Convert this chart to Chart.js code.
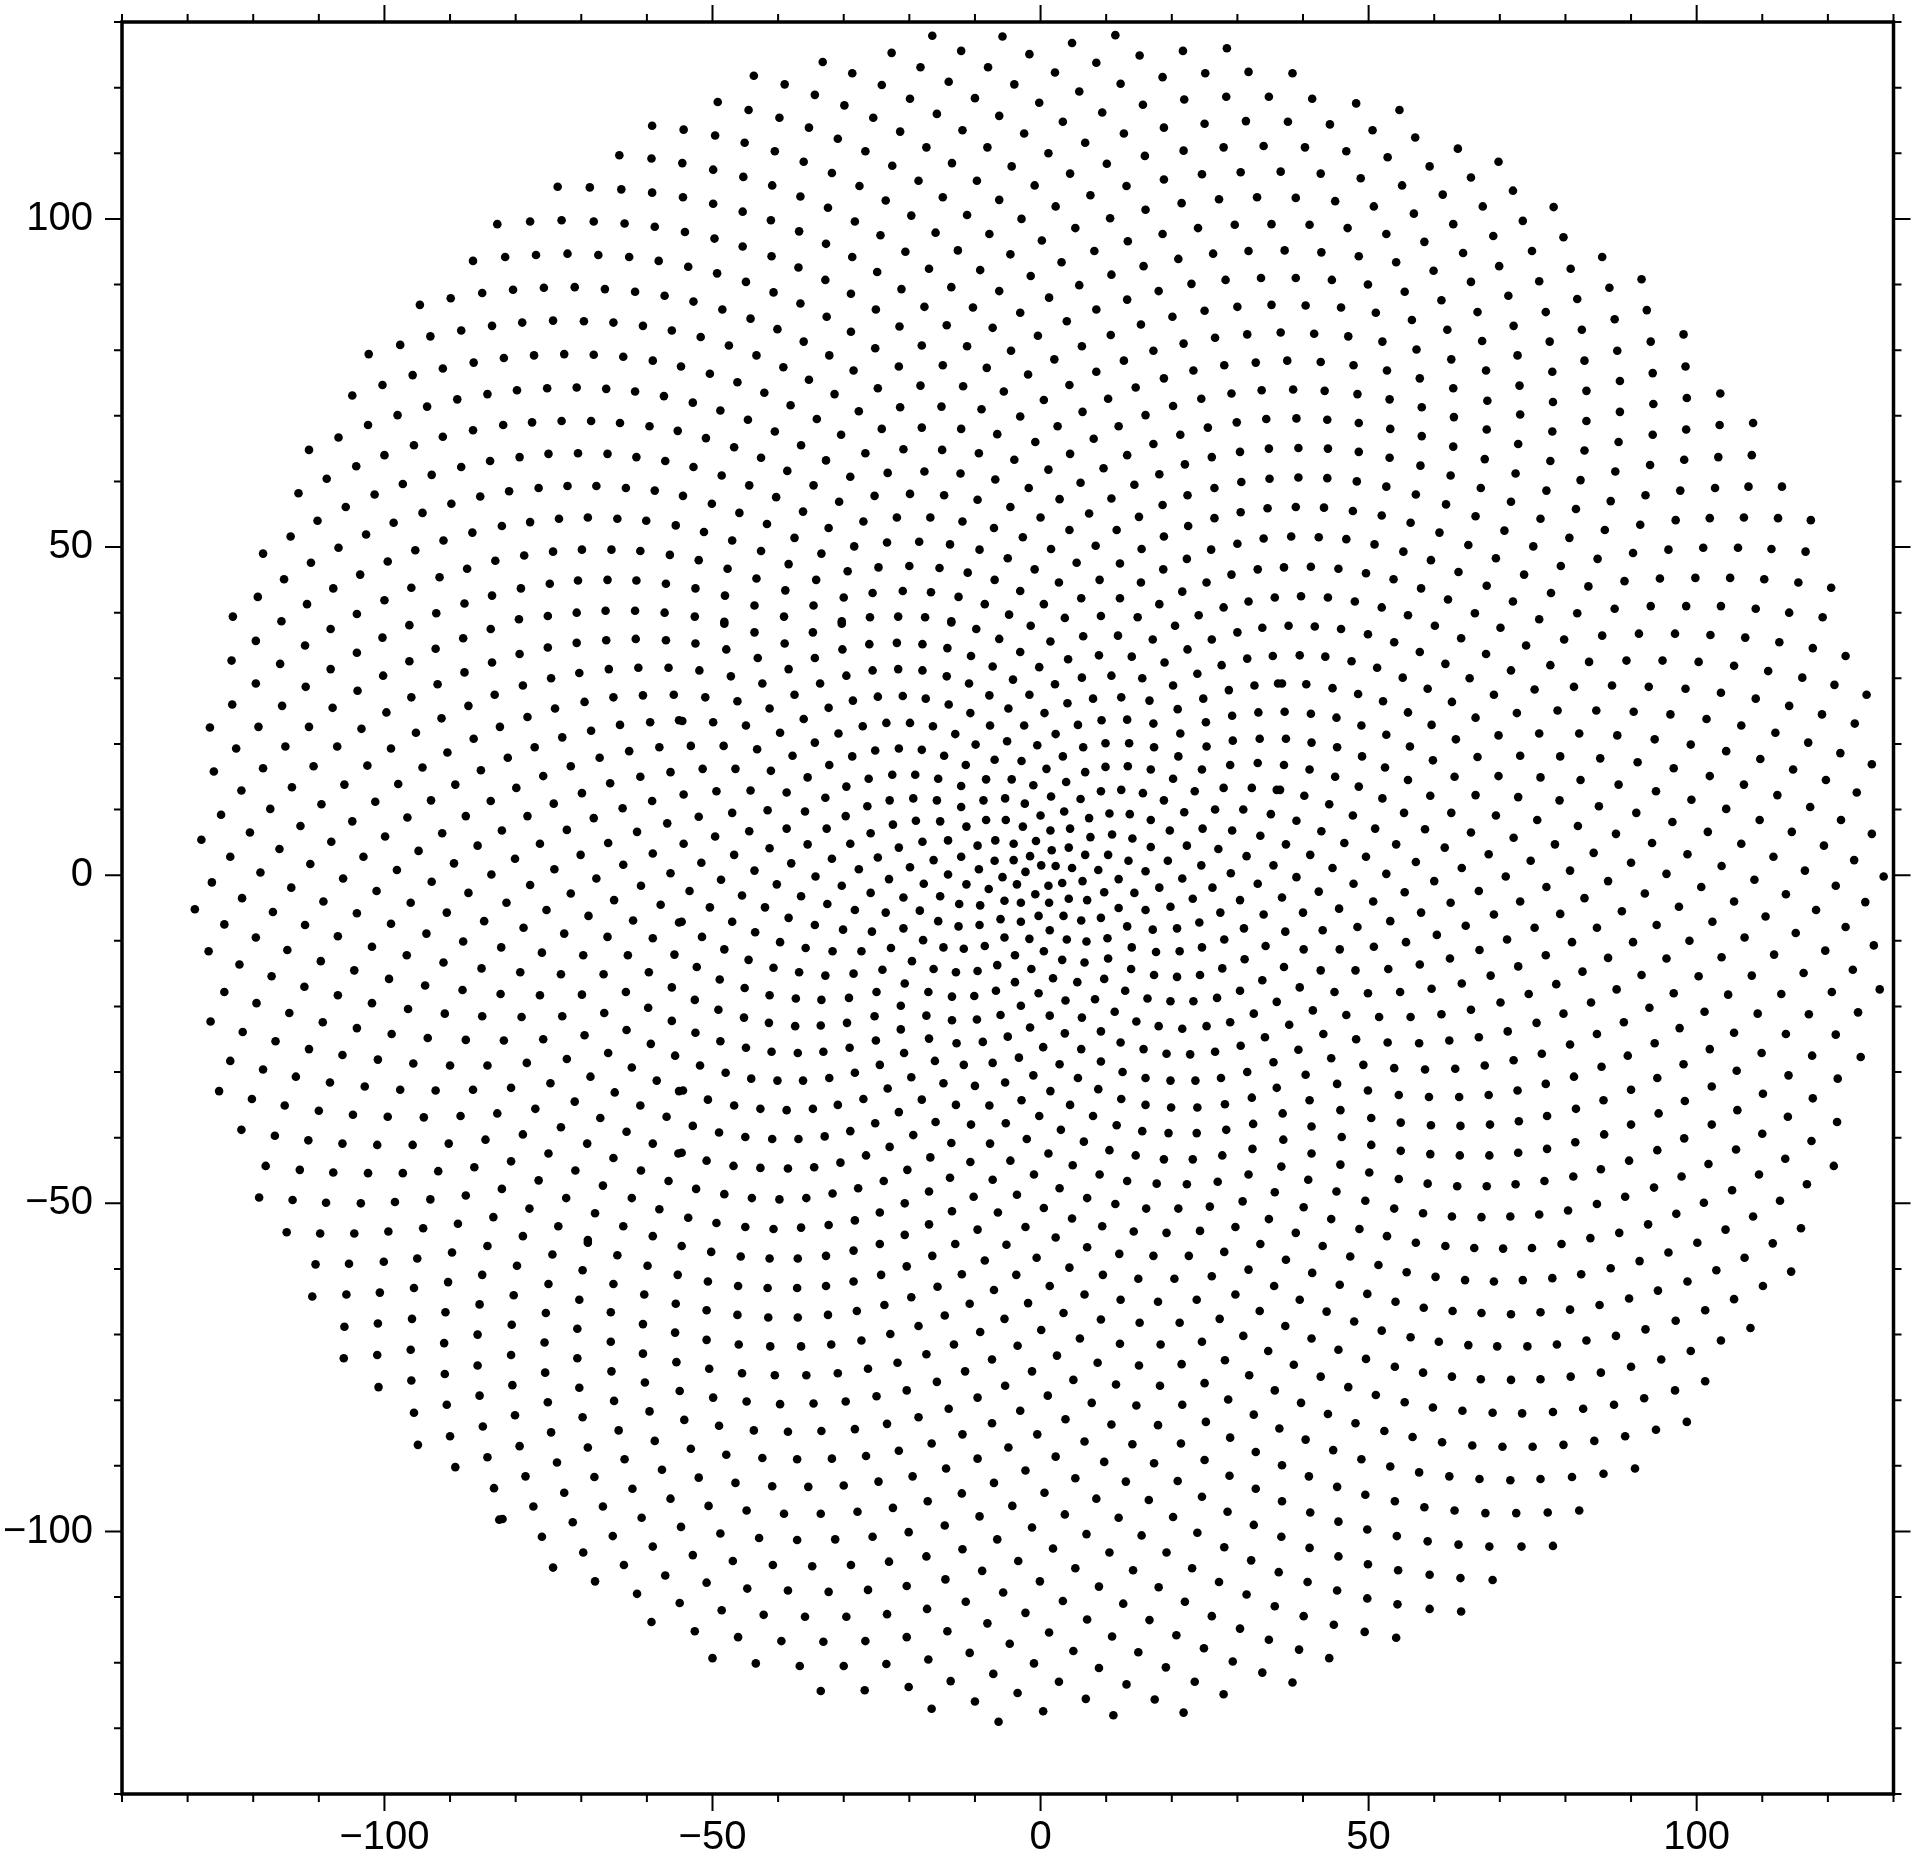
<!DOCTYPE html>
<html>
<head>
<meta charset="utf-8">
<title>Spiral points</title>
<script src="https://cdn.jsdelivr.net/npm/chart.js@4"></script>
<style>
    html, body { margin: 0; padding: 0; background: #fff; }
    canvas { display: block; }
</style>
</head>
<body>
<canvas id="pointsChart" width="1916" height="1856"></canvas>
<script>
const xRange = [-140, 130];
const yRange = [-140, 130];
const tickValues = [-100, -50, 0, 50, 100];
const tickLabels = ['\u2212100', '\u221250', '0', '50', '100'];

// values, one region at a time, as x,y x,y ...
const upperLeft = [-82.8,99.2,-86.5,93.6,-85.1,88.7,-89.9,87.9,-94.6,86.9,-83.6,83.7,-88.3,83,-93,82.1,-97.6,80.8,-102.4,79.4,-86.4,78.1,-91.1,77.2,-95.7,76.2,-100.3,74.7,-104.9,73.1,-84.3,73.3,-88.9,72.5,-93.5,71.4,-98,70.1,-102.5,68.6,-107,66.7,-111.5,64.8,-86.5,67.8,-91.1,66.8,-95.5,65.5,-100,64,-104.3,62.3,-108.8,60.4,-113.1,58.2,-83.9,63.1,-88.3,62.2,-92.8,61,-97.2,59.6,-101.5,58,-105.9,56.1,-110.2,54,-114.3,51.6,-118.5,49,-85.4,57.7,-89.8,56.6,-94.2,55.2,-98.6,53.7,-102.8,51.9,-107,49.9,-111.2,47.6,-115.3,45.1,-119.3,42.4,-123.1,39.4,-86.6,52.2,-91,51,-95.3,49.5,-99.5,47.8,-103.7,45.8,-107.8,43.7,-111.8,41.3,-115.7,38.7,-83.1,47.9,-87.4,46.7,-91.6,45.4,-95.9,43.8,-100,41.9,-104.2,39.8,-83.6,42.6,-87.8,41.4,-92.1,39.9];
const upperMid = [-16.5,127.9,-22.7,125.3,-12.1,125.6,-33.2,123.9,-28.7,122.2,-18.3,123.1,-8,123.1,-43.7,121.8,-39,120.5,-34.4,118.9,-24.2,120.4,-14,120.9,-19.9,118.3,-10,118.4,-29.9,117.3,-49.2,117.8,-44.5,116.6,-39.8,115.4,-35.3,113.9,-25.5,115.4,-15.8,116,-6.3,115.7,-59.2,114.2,-54.4,113.6,-49.6,112.7,-45.1,111.6,-30.9,112.2,-21.4,113.3,-11.9,113.5,-40.5,110.3,-26.7,110.3,-17.4,110.9,-8.1,110.9,-64.2,109.7,-59.3,109.2,-54.6,108.5,-49.9,107.5,-45.3,106.4,-36.1,108.7,-31.8,107,-22.6,108.1,-13.5,108.5,-40.9,105.1,-27.6,105,-18.6,105.8,-9.7,105.8,-73.6,104.9,-68.7,104.8,-63.9,104.5,-59.2,104,-54.5,103.3,-49.9,102.3,-45.4,101.1,-36.6,103.4,-32.4,101.7,-23.6,102.8,-14.9,103.3,-6.3,102.9,
-77.8,99.6,-73,99.8,-68.1,99.6,-63.4,99.3,-58.8,98.8,-54.2,98,-49.7,97,-45.4,95.8,-41.1,99.8,-36.8,98.1,-32.7,96.2,-28.3,99.6,-24.4,97.5,-19.7,100.5,-16,97.9,-11.2,100.6,-7.8,97.7,-81.6,94.2,-76.9,94.5,-72.1,94.7,-67.4,94.5,-62.7,94.2,-58.2,93.6,-53.7,92.7,-49.3,91.7,-44.9,90.4,-41,94.3,-36.9,92.6,-32.8,90.7,-28.7,94.2,-24.9,91.9,-20.6,95,-17,92.4,-12.6,95.2,-9.2,92.2,-80.4,89.2,-75.7,89.5,-71,89.6,-66.4,89.3,-61.8,88.9,-57.3,88.3,-52.9,87.4,-48.5,86.2,-44.2,84.8,-40.7,88.8,-36.6,87.1,-32.6,85.1,-28.9,88.6,-25.1,86.2,-21.2,89.3,-17.7,86.6,-13.6,89.6,-10.3,86.5,-6.3,89,
-79,84.2,-74.3,84.5,-69.6,84.4,-65.1,84.2,-60.6,83.7,-56.2,83,-51.8,82,-47.5,80.7,-43.3,79.2,-40.1,83.2,-36.1,81.3,-32.2,79.2,-28.9,82.8,-25.2,80.3,-21.5,83.6,-18.1,80.7,-14.3,83.8,-11.2,80.6,-7.3,83.4,-81.8,78.8,-77.2,79.2,-72.6,79.4,-68.1,79.3,-63.6,79,-59.1,78.4,-54.8,77.5,-50.4,76.4,-46.2,75.1,-42.1,73.5,-39.2,77.4,-35.3,75.5,-31.4,73.3,-28.5,76.9,-24.8,74.2,-21.6,77.5,-18.3,74.6,-14.9,77.7,-11.8,74.5,-8.2,77.3,-79.8,73.9,-75.2,74.2,-70.7,74.3,-66.2,74.1,-61.8,73.7,-57.4,73,-53,72,-48.8,70.8,-44.6,69.4,-40.5,67.6,-38.1,71.6,-34.1,69.5,-30.4,67.1,-27.7,70.7,-24.2,68,-21.4,71.3,-18.1,68.2,-15.1,71.4,-12.1,68,-9,71,
-81.9,68.6,-77.5,69,-73,69.2,-68.5,69.2,-64.1,68.9,-59.6,68.4,-55.3,67.7,-51,66.6,-46.7,65.2,-42.6,63.6,-38.6,61.6,-36.5,65.5,-32.7,63.2,-29,60.7,-26.7,64.3,-23.3,61.3,-20.9,64.9,-17.7,61.5,-15,64.8,-12.2,61.2,-9.4,64.3,-6.6,67.2,-79.4,63.7,-75,64.2,-70.5,64.3,-66,64.2,-61.6,63.7,-57.2,63.1,-52.9,62.2,-48.6,60.9,-44.4,59.4,-40.3,57.6,-34.6,59.4,-30.7,56.9,-25.3,57.8,-19.9,58.1,-14.7,57.9,-9.6,57.2,-6.9,60.3,-81,58.5,-76.5,59,-72.1,59.3,-67.7,59.3,-63.2,59,-58.8,58.6,-54.5,57.8,-50.1,56.6,-45.9,55.2,-41.7,53.5,-36.2,55.4,-32.3,52.9,-27,53.9,-21.9,54.5,-16.8,54.5,-11.9,53.9,-7.1,52.9,
-82.1,53.2,-77.8,53.8,-73.4,54.3,-69,54.5,-64.5,54.3,-60.1,54,-55.6,53.3,-51.3,52.3,-47,51,-42.6,49.4,-37.5,51.4,-33.4,49,-28.4,50.1,-23.4,50.7,-18.5,50.8,-13.8,50.4,-9.3,49.6,-78.7,48.7,-74.3,49.3,-69.9,49.6,-65.4,49.6,-61,49.4,-56.5,48.8,-52.1,48,-47.7,46.7,-43.3,45.2,-38.4,47.4,-34.2,45,-29.4,46.3,-24.7,46.9,-20,47.1,-15.4,46.8,-11.1,46.1,-7,45,-79.2,43.7,-74.8,44.4,-70.5,44.9,-66,45,-61.6,44.9,-57.1,44.4,-52.6,43.7,-48.1,42.6,-43.6,41.1,-38.9,43.4,-34.6,41.1,-30,42.3,-25.6,43,-21,43.3,-16.7,43.1,-12.5,42.4,-8.5,41.3,-79.5,39,-75.1,39.5,-70.7,40,-66.3,40.3,-61.8,40.3,-57.3,40,-52.7,39.4,-48.2,38.6,-39.1,39.4,-30.3,38.7,-26,39.3,-21.7,39.4,-17.6,39.3,-13.6,38.7];
const upperCentre = [-5.8,127.8,4.8,126.8,11.4,128,-1.7,125.1,8.5,123.8,15.1,124.9,21.7,125.6,28.4,126,2.2,122.3,12.2,120.6,18.6,121.6,25.1,122.2,31.7,122.4,38.4,122.2,-4,120.5,5.9,119.4,-.2,117.7,15.6,117.4,21.9,118.2,28.3,118.6,34.8,118.6,41.4,118.3,48.1,117.6,54.7,116.6,9.4,116.2,3.4,114.8,18.8,113.9,25,114.5,31.3,114.9,37.7,114.8,44.1,114.4,50.6,113.5,57.1,112.4,-2.5,113,12.7,113,6.8,111.6,21.8,110.4,27.9,110.9,34,111.1,40.3,110.9,46.6,110.3,52.9,109.4,59.3,108,63.6,110.7,69.8,108.7,1.2,110,15.9,109.6,-4.4,108,10.1,108.4,4.5,106.9,24.6,106.8,30.5,107.1,36.6,107.2,42.7,106.9,48.8,106.2,55.1,105.1,61.3,103.7,65.6,106.3,18.8,106,-.9,105.1,13.1,105,7.6,103.6,21.5,102.4,27.2,103,33,103.3,38.9,103.2,44.9,102.7,50.8,101.9,56.9,100.8,67.4,101.9,
2.3,101.9,16,101.4,-2.9,100,10.6,100.1,5.3,98.6,24,98.6,29.6,99.1,35.2,99.2,41,99.1,46.8,98.6,52.7,97.7,58.5,96.5,62.9,99.2,69,97.4,18.6,97.7,.2,96.7,13.3,96.6,8.2,95.1,-4.6,94.6,21,93.9,26.3,94.7,31.7,95.1,37.2,95.2,42.8,94.9,48.5,94.3,54.2,93.4,59.9,92.1,64.4,94.8,69.9,92.8,3.2,93.4,15.7,92.8,-1.5,91.3,10.8,91.5,5.9,89.9,28.2,90.7,33.6,91,38.9,91,44.4,90.7,49.9,90,55.5,88.9,61.1,87.6,65.6,90.4,23,90.1,18,89,13.2,87.7,1.3,88,8.5,86.2,-3.1,85.7,30,86.6,35.2,86.9,40.4,86.8,45.8,86.5,51.1,85.7,56.6,84.6,62,83.1,66.6,85.8,25,86,20.1,85.1,4,84.4,15.3,83.9,-.4,82.2,10.7,82.3,26.6,81.9,31.5,82.4,36.6,82.7,41.7,82.5,46.9,82.1,52.1,81.3,57.3,80.1,62.6,78.6,67.3,81.4,
21.8,81,6.3,80.6,17.2,79.9,-4.5,79.9,2.1,78.6,12.7,78.4,28,77.7,32.8,78.1,37.6,78.4,42.7,78.2,47.7,77.7,52.8,76.9,57.8,75.7,62.9,74.2,67.9,76.9,8.5,76.7,-1.9,76.3,23.3,76.9,18.8,75.7,4.4,74.7,14.5,74.3,-5.6,73.7,29.1,73.4,33.7,73.9,38.5,74,43.3,73.8,48.3,73.3,53.2,72.5,58.1,71.3,68.1,72.3,.5,72.4,10.3,72.6,24.5,72.6,20.2,71.5,6.4,70.6,16,70.1,-3.1,69.9,29.9,69,34.4,69.5,39,69.6,43.7,69.4,48.5,68.9,53.3,68,58.1,66.9,63,69.8,68,67.9,2.6,68.4,11.9,68.4,25.5,68.2,21.3,67.1,8.1,66.5,-.8,66,17.2,65.7,30.4,64.5,34.8,65,39.3,65.1,43.8,65,48.5,64.5,53.2,63.6,57.9,62.4,62.9,65.3,67.7,63.4,
4.5,64.2,13.2,64,26.1,63.7,-4,63.3,22,62.6,1.2,61.8,9.6,62,18.1,61.1,30.6,59.9,34.9,60.4,39.3,60.6,43.7,60.5,48.2,60,52.7,59.2,57.2,58,62.5,60.9,67.1,59,6.1,59.8,14.3,59.5,26.5,59,-1.8,59,22.4,57.9,2.9,57.3,10.8,57.4,18.6,56.4,30.5,55.3,34.6,55.9,38.9,56.1,43.2,56,47.6,55.5,52,54.8,56.4,53.7,61.8,56.5,66.3,54.7,-4.6,56.1,7.4,55.1,0,54.5,15,54.6,26.5,54.4,22.5,53.2,4.4,52.6,11.6,52.6,18.8,51.6,30,50.5,34,51.3,38.2,51.6,42.4,51.5,46.6,51.2,50.9,50.4,55.3,49.3,60.8,52.2,65.2,50.3,
-2.7,51.5,8.4,50.2,1.6,49.7,15.4,49.7,26,49.6,22.3,48.2,5.5,47.6,12.1,47.5,-5,48.3,59.5,48,69.4,48.3,18.7,46.6,29.1,45.8,33.1,46.6,37.1,46.9,41.2,47,45.4,46.7,49.6,46,53.8,45.1,63.7,46.2,-.9,46.6,9,45,2.8,44.6,15.3,44.6,25.3,44.6,-3.1,43.3,21.6,43.2,58,43.7,68,44.1,6.2,42.2,12.1,42.2,.5,41.3,18.1,41.3,27.9,40.8,31.7,41.7,35.7,42.3,39.7,42.5,43.8,42.3,47.9,41.7,52,40.8,62.1,42,-4.8,39.7,3.7,39.2,9.2,39.5,14.8,39.3,24.1,39.6,56,39.6,66.2,39.9];
const upperRight = [72,104.3,78.2,101.8,73.5,99.7,79.7,97.2,74.9,95.1,85.6,94.2,80.8,92.4,76,90.5,91.6,90.8,71.3,88.3,86.7,89.5,81.8,87.8,77,85.8,92.4,86.1,72.1,83.7,87.5,84.7,82.5,83.1,98,82.4,77.6,81.3,93,81.3,87.9,79.9,72.7,79.2,82.9,78.4,78,76.7,98.3,77.5,93.3,76.5,88.3,75.3,73,74.6,83.2,73.8,103.6,73.4,98.5,72.7,78.1,72.1,93.4,71.8,88.3,70.6,73.1,70.2,83.2,69.2,103.5,68.6,108.6,68.9,98.4,67.9,78,67.6,93.3,67.1,88.1,66,72.8,65.7,82.9,64.7,103.3,63.7,108.4,64,98.1,63.3,77.7,63.1,92.9,62.5,87.6,61.5,72.4,61.2,82.3,60.2,102.8,59,107.9,59.2,113,59.2,97.5,58.6,77.1,58.6,92.2,57.9,86.9,57,71.7,56.9,81.6,55.8,102,54.4,107.2,54.5,112.4,54.4,117.4,54.1,96.8,54.1,76.2,54.3,91.4,53.4,86,52.6,70.7,52.5,80.6,51.4,101,49.9,106.3,49.9,111.4,49.7,116.6,49.3,95.7,49.6,75.1,50.1,90.3,49.1,84.9,48.2,79.3,47.1,99.8,45.3,105.1,45.3,110.3,45.1,115.5,44.6,120.5,43.8,94.4,45.2,73.7,45.8,89,44.8,83.5,44,77.8,43,72,41.7,98.4,41,93,41,103.7,41,109,40.6,114.1,40,119.2,39.3,87.5,40.6,81.8,39.9,76,39];
const middleLeft = [-108.2,37.5,-96.2,38.1,-83.8,37.5,-119.6,35.7,-112.1,35,-100.3,36.2,-104.2,33.9,-88,36.1,-92.2,34.5,-75.1,34.7,-70.7,35.4,-66.2,35.8,-61.7,36,-57.1,35.8,-79.4,33.7,-123.3,32.7,-115.9,32.2,-108.2,31.4,-96.2,32.6,-83.6,32.4,-87.8,30.9,-100.2,30.4,-74.6,30,-70.3,30.8,-65.8,31.4,-61.3,31.6,-56.7,31.6,-119.6,29.2,-112,28.7,-104.1,28.1,-91.9,29.1,-78.9,28.9,-95.9,27.1,-83.2,27.5,-69.5,26.4,-65.1,27.1,-60.6,27.4,-55.9,27.5,-123.2,26,-115.6,25.8,-107.9,25.5,-99.7,24.8,-87.2,25.8,-74,25.4,-91.3,23.9,-78.2,24.1,-64.1,22.9,-59.5,23.3,-55.1,23.6,-126.6,22.5,-119.2,22.6,-111.5,22.6,-103.5,22.3,-95.2,21.7,-82.4,22.6,-68.5,22,-86.4,20.8,-72.9,21,-122.6,19.3,-115.1,19.6,-107.2,19.6,-99,19.3,-90.4,18.7,-77.1,19.5,-62.7,18.9,-58.1,19.5,-81.2,17.9,-67.2,17.9,-126,15.8,-118.5,16.3,-110.8,16.6,-102.6,16.7,-94.2,16.4,-85.3,16,-71.6,16.6,-56.4,15.7,-75.8,15.1,-61,15,
-121.8,12.9,-114.1,13.4,-106.1,13.8,-97.9,13.9,-89.2,13.8,-79.9,13.3,-65.6,14,-69.9,12.5,-59.2,11.3,-124.9,9.2,-117.4,10.1,-109.6,10.8,-101.4,11.2,-92.9,11.4,-83.8,11.3,-74.2,10.9,-63.7,10.2,-68.1,8.7,-78.2,9,-120.5,6.5,-112.8,7.5,-104.9,8.2,-96.5,8.8,-87.6,9,-56.9,7.9,-72.2,6.9,-82.1,6.8,-91.2,6.4,-61.5,6.6,-127.9,5.4,-108.1,5.1,-116,4,-99.9,5.9,-76.3,4.8,-65.9,4.9,-85.8,4.5,-94.8,3.7,-123.5,2.8,-103.2,2.8,-70.1,3.1,-80.1,2.5,-111.3,1.7,-89.4,1.8,-59.1,3.3,-63.6,1.6,-118.9,.4,-98.1,.8,-74.1,.9,-83.7,.1,-56.4,.3,-106.3,-.5,-126.3,-1.1,-92.8,-1,-77.8,-1.5,-67.7,-.5,-60.9,-1.6,-114.2,-1.9,-101.2,-2.4,-87.2,-2.7,-71.6,-2.8,-121.7,-3.5,-109.3,-4,-96,-4.2,-81.4,-4.2,-65,-3.8,-57.9,-4.5,-128.9,-5.2,-117,-5.6,-104.2,-5.8,-90.5,-5.7,-75.3,-5.3,-84.8,-7,-68.9,-6.2,-124.4,-7.5,-112.1,-7.6,-99,-7.4,-62.1,-6.9,-55.1,-7.2,
-78.8,-8,-93.6,-8.9,-119.6,-9.5,-107.1,-9.3,-72.6,-8.9,-88,-10.1,-66,-9.4,-59.1,-9.6,-126.8,-11.6,-114.8,-11.4,-101.9,-10.9,-82.2,-11,-96.6,-12.2,-76,-11.8,-69.7,-12.2,-62.9,-12.2,-55.8,-12.1,-122.1,-13.6,-109.7,-13.1,-91,-13.3,-104.6,-14.5,-85.2,-14.2,-79.3,-14.8,-73.1,-15.1,-66.6,-15.1,-59.7,-14.8,-117.2,-15.4,-99.3,-15.8,-112.2,-17,-93.8,-16.8,-56.2,-17.1,-124.4,-17.8,-88.1,-17.5,-107.1,-18.3,-82.3,-18.1,-76.3,-18.3,-69.9,-18.2,-63.2,-17.8,-119.5,-19.5,-101.9,-19.5,-96.4,-20.4,-59.8,-20.2,-114.5,-21,-90.8,-21.1,-85.1,-21.5,-79.1,-21.6,-72.9,-21.5,-66.5,-21,-126.5,-22.3,-109.4,-22.4,-56.2,-22.2,-104.2,-23.3,-121.6,-23.9,-98.9,-24.2,-63.1,-23.6,-93.4,-24.8,-87.6,-25.1,-81.8,-25.2,-75.8,-25,-69.5,-24.4,-116.6,-25.3,-59.4,-25.7,
-111.5,-26.5,-106.4,-27.4,-65.9,-27.1,-55.7,-27.5,-123.5,-28.3,-101,-28.1,-95.6,-28.7,-90,-29,-84.3,-29,-78.3,-28.6,-72.2,-28,-62.3,-29.3,-118.5,-29.6,-113.5,-30.7,-68.6,-30.7,-108.3,-31.6,-58.5,-31.3,-74.7,-31.7,-103,-32.2,-97.6,-32.7,-92.2,-32.8,-86.5,-32.7,-80.7,-32.4,-64.9,-33.1,-125.2,-32.9,-55.1,-32.9,-120.2,-34.1,-71,-34.5,-115.2,-35.1,-61,-35.1,-110,-35.9,-77,-35.6,-104.8,-36.5,-99.5,-36.8,-94,-36.9,-88.4,-36.7,-82.8,-36.3,-67.1,-37,-57,-36.8,-121.8,-38.8,-73.1,-38.4,-116.7,-39.7,-78.9,-39.5,-63.1,-39.1,-111.6,-40.4,-84.6,-40.3,-106.4,-40.9,-101.1,-41.1,-95.7,-41.1,-90.2,-40.9,-69.1,-40.9,-59.1,-40.9,
-75,-42.4,-55.2,-42.4,-80.7,-43.6,-65.1,-43.1,-118.1,-44.3,-112.9,-44.9,-107.8,-45.3,-102.5,-45.4,-97.2,-45.4,-91.8,-45.1,-86.3,-44.5,-70.9,-45,-60.9,-45,-76.5,-46.5,-82.1,-47.8,-56.7,-46.6,-66.7,-47.3,-119.1,-49.1,-114,-49.5,-108.9,-49.9,-103.6,-50,-98.4,-49.8,-93,-49.4,-87.6,-48.8,-72.3,-49.2,-62.3,-49.2,-77.9,-50.8,-58.1,-50.9,-83.4,-52.1,-67.9,-51.5,-88.8,-53.1,-94.1,-53.8,-99.4,-54.3,-114.9,-54.4,-109.8,-54.6,-104.6,-54.6,-73.5,-53.5,-63.6,-53.5,-78.9,-55,-59.1,-55,-69,-55.6];
const middleCentre = [-48.2,38.3,-30.3,38.3,-13.6,38.5,-43.6,37,-34.7,37,-9.8,37.5,-1.5,38,20.5,38,33.8,37.7,-52.6,35.3,-47.9,34.4,-39,35.3,-30.2,34.4,-26.1,35.2,-21.9,35.4,-18,35.2,-14.2,34.6,-6.3,36,1.5,35.6,6.5,36.4,11.8,36.5,17.1,35.9,22.4,34.4,26.1,35.9,30,37,-43.1,33.1,-34.4,33.1,-10.6,33.4,-3.1,34,4.2,32.9,8.9,33.5,13.9,33.3,18.9,32.4,27.6,32,31.5,33,35.4,33.4,-52,31.2,-47.2,30.3,-38.4,31.4,-29.6,30.4,-25.6,31.2,-21.7,31.4,-18,31.2,-14.3,30.3,-7.3,31.8,-.2,31.7,10.8,30.4,6.3,30.1,15.5,30,23.9,30.7,-42.4,29.2,-33.6,29.2,-10.9,29.2,-4.2,29.8,2.2,29.1,20.2,28.9,32.6,28.9,28.7,28.2,36.2,29.2,-51.1,27.1,-46.2,26.5,-37.5,27.5,-28.6,26.6,-24.8,27.2,-21,27.3,-17.5,26.9,-14,26,-7.8,27.4,-1.7,27.5,4.1,26.2,8,26.9,12.3,27.1,16.6,26.6,24.8,26.9,
-41.3,25.4,-32.3,25.5,-10.7,24.7,-4.9,25.4,.6,24.7,20.9,25.3,29.2,24.3,33.2,24.8,-54.6,23.5,-49.9,23.3,-44.9,22.8,-36.1,23.8,-27.1,22.7,-23.5,23.2,-19.9,23.2,-16.4,22.7,-7.7,22.8,-2.5,22.8,5.7,22.9,9.3,23.6,13.2,23.7,17.2,23.1,25.2,23.3,-39.7,21.7,-30.8,21.6,-13,21.5,2.3,21.5,21.3,21.6,29.3,20.5,33.4,20.8,-53.3,19.7,-48.3,19.7,-43.2,19.2,-34.4,20.2,-25.2,19,-21.6,19.3,-18.1,19.1,-9.9,19.9,-5.1,20.4,-.5,19.8,6.5,19.5,9.9,20.1,13.5,20.1,17.3,19.5,25.3,19.6,-37.8,18.2,-28.7,18.1,-14.7,18.2,-7,17.6,-2.9,17.4,3.4,18.1,21,18.1,28.9,16.8,33.1,17.1,-51.5,16.2,-46.5,16.2,-41.1,15.9,-32.2,16.8,-11.4,16.8,.9,16.2,6.8,15.7,9.9,16.5,13.3,16.6,16.8,16.1,24.6,16.1,-35.5,14.9,-26.2,14.7,-22.6,15.3,-19.1,15.3,-15.6,14.7,-8.3,14.6,-4.4,14.6,-1.1,13.7,3.9,14.2,20.2,14.7,27.9,13.3,32.2,13.3,
-54.4,12.3,-49.4,12.8,-44.2,12.9,-38.7,12.6,-29.6,13.5,-12.1,13.6,1.6,12,9.2,12.8,12.3,13,15.6,12.5,23.5,12.8,36,13,-32.8,11.8,-23,11.4,-19.4,11.7,-15.8,11.4,-8.7,11.4,-5.4,11.7,-2.4,10.9,6.1,11.6,18.8,11.4,-26.4,10.5,-12.1,10.4,3.6,9.7,10.5,9.4,13.6,9.3,21.9,9.6,26.6,10,30.9,10,35.1,9.3,-52.1,8.9,-47,9.5,-41.6,9.9,-35.9,9.7,-29.7,9,-19,8.3,-15.3,8.2,-8.3,8.4,-5.3,8.4,0,9.1,7.4,8.7,16.8,8.4,-22.5,7.7,-11.3,7.4,-2.7,7.4,4.5,7.1,1.5,6.8,-38.7,7.1,-32.6,7.1,24.7,7.1,29.2,6.8,-49.6,5.9,-44.4,6.7,-25.9,6.4,7.6,5.8,10.9,6.2,14,5.6,19.7,6.8,33.5,6,-18,5.1,-14.1,5.3,-6.9,5.3,-4.1,4.8,-.7,5.2,
-54.4,4.8,-35.5,4.7,-29,4.8,-41.3,4.1,-21.6,4.2,-9.6,4.5,1.7,3.8,4.3,4.2,16.8,4.3,22.3,4.5,27.1,4,-46.7,3.1,-24.8,2.7,-12.1,2.8,-1.6,2.9,6.8,3.1,10.3,3.1,31.4,2.9,-31.8,2.5,-16.3,2.3,-7,2.2,-4.1,2.3,13.4,2.2,19.4,2.2,-51.7,1.9,-38,1.8,.1,1.5,2.3,1.4,4.8,1.1,24.5,1.5,35.5,1.5,-19.9,1.2,-9.4,.9,-27.7,.9,-43.6,.7,8.8,.8,-2.3,.5,16,.6,29,.3,-34.3,-.2,-14.1,.1,-5.8,-.3,-23.1,-.6,-48.7,-.7,21.6,-.5,11.9,-.6,6.4,-.9,3.3,-1.2,-17.8,-1.3,-40.2,-1.4,-3.6,-1.4,1.2,-1.6,-11.3,-1.4,33.1,-1.3,
-30.3,-1.6,18.1,-1.9,26.2,-1.9,-7.9,-2.1,-53.5,-2.4,-45.5,-3.1,-36.5,-3.2,-25.9,-2.7,-15.3,-3.2,-20.9,-3.4,-.8,-2.9,9.7,-2.6,14.3,-2.7,4.3,-3.6,7.1,-3.8,23.2,-3.6,30.4,-3.8,-5.5,-3.9,-3,-4.2,1.3,-4.2,-12.4,-4.4,-9.2,-4.6,-32.5,-4.4,-50.4,-4.9,-42,-4.9,19.8,-4.8,11.9,-5,-28.3,-5.3,-18.4,-5.4,16,-5.3,-23.6,-5.7,27.4,-5.7,34,-6,-.3,-6.2,3.5,-6.2,-6.1,-6.7,6.2,-6.9,9.2,-6.5,-38.4,-6.5,-3,-7.1,-47,-7.1,-54.7,-7.1,-15.6,-7,-34.4,-7.6,24.2,-7.2,
-12.5,-7.8,-9.3,-7.6,13.2,-7.8,-20.9,-8.1,20.8,-8.1,31,-8.1,-30.1,-8.3,17.1,-8.3,1.4,-8.4,-25.7,-8.6,-43.5,-8.7,-51.6,-9.4,-5.5,-9.5,10.2,-9.6,-1.7,-9.7,4,-9.8,28,-9.8,-17.9,-9.9,7,-10.1,-39.7,-10.2,-8.5,-10.8,34.3,-10.8,13.9,-11,24.6,-11,-14.8,-11,-35.8,-11.1,-22.8,-11.1,-11.7,-11.2,-48.2,-11.3,-31.7,-11.6,-27.3,-11.6,.5,-11.6,17.6,-11.7,21.2,-11.6,-3.9,-12.2,10.3,-12.7,31.1,-12.8,-44.5,-12.9,3.3,-12.9,-19.6,-13.1,6.7,-13.3,-6.6,-13.7,-52.4,-14,-40.7,-14.1,13.8,-14.3,27.7,-14.2,-16.3,-14.3,-24.1,-14.4,-1.4,-14.3,-9.6,-14.6,-12.9,-14.8,-36.8,-14.8,-28.5,-15,-32.8,-15.3,17.3,-15.2,24.3,-15.2,20.8,-15.5,
1.9,-15.7,9.7,-15.8,-48.9,-15.9,33.8,-16,5.6,-16.3,-3.9,-16.3,-20.7,-16.5,-45.1,-17.2,-6.8,-17.6,12.9,-17.6,30.4,-17.6,-17.1,-17.8,-25,-17.8,-.3,-18,-41.3,-18.3,-13.5,-18.5,-10.1,-18.4,-29.2,-18.7,26.9,-18.7,16.3,-18.8,-37.3,-18.8,-52.7,-19,-33.4,-19,8.3,-18.9,3.8,-19.1,19.8,-19.2,23.3,-19.2,36,-19.3,-3,-19.9,-21.3,-19.9,-49.1,-20.5,11.3,-20.8,32.5,-21.1,-17.4,-21.4,-6.1,-21.3,-25.3,-21.5,1.4,-21.4,-45.2,-21.7,6.3,-21.7,-13.5,-22.1,-9.7,-22,14.6,-22.3,28.9,-22.4,-29.5,-22.5,-41.4,-22.5,-33.5,-22.9,-37.4,-23,18,-23,25.3,-23,21.6,-23.4,-1.6,-23.2,
-21.3,-23.5,-52.6,-24,9.2,-23.8,3.7,-24.1,-5,-24.6,34.2,-24.7,-17,-24.9,-25.1,-25.2,-48.8,-25.3,-8.8,-25.4,-12.8,-25.6,12.2,-25.5,30.5,-26,.4,-26.2,-44.9,-26.3,-29.1,-26.3,6.2,-26.5,15.7,-26.5,-33.1,-26.9,-41,-26.9,26.6,-26.9,-37,-27.1,19.2,-27.2,-20.8,-27.1,22.8,-27.3,-3.3,-27.8,-16.1,-28.3,9.2,-28.4,-7.3,-28.6,-24.5,-28.9,-11.7,-28.9,2.9,-28.8,-51.9,-29,35.5,-28.5,12.5,-30,31.5,-30,-48,-30.1,-28.3,-30.1,-1.1,-30.5,16,-30.9,-19.7,-30.8,5.7,-30.9,-32.2,-30.9,-44.1,-31,27.5,-30.9,-36.2,-31.3,-40.1,-31.3,23.6,-31.3,19.8,-31.3,
-5.4,-31.6,-14.8,-31.7,-10,-32.1,-23.3,-32.5,8.8,-32.6,1.5,-32.9,-54.5,-32.8,36,-32.4,32.2,-33.9,12.3,-34.1,-27,-34.1,-50.7,-34.2,-18.1,-34.2,-2.9,-34.3,28.1,-34.9,-30.9,-35,16,-35,-46.7,-35.1,-12.9,-35,-7.8,-35.1,4.5,-35,19.9,-35.4,-34.7,-35.6,23.9,-35.4,-42.7,-35.6,-38.7,-35.8,-21.6,-36.1,-.2,-36.7,8,-36.7,-25.2,-37.8,-16,-37.6,-5.3,-37.8,-10.6,-38,11.6,-38.1,32.4,-37.9,-53,-38.2,28.3,-38.8,3.1,-38.8,15.5,-39,-29,-39,-49,-39.2,19.5,-39.3,23.8,-39.3,-32.9,-39.8,-45,-39.9,-36.9,-40.2,-40.9,-40.2,-19.4,-39.6,-2.1,-40.2,
-13.6,-40.8,6.6,-40.6,-7.7,-40.9,-23,-41.4,10.5,-41.9,32.3,-41.7,1.2,-42.4,-54.7,-42.3,14.5,-42.7,27.7,-42.7,-26.6,-42.7,-16.8,-43,18.8,-43.3,23.2,-43.3,-4.6,-43.5,-50.9,-43.5,-10.7,-43.7,-30.5,-43.8,-46.8,-44.3,-34.5,-44.5,4.9,-44.2,-38.5,-44.7,-42.7,-44.6,-20.3,-44.9,-1,-45.6,9,-45.6,31.7,-45.6,-13.8,-46.1,-7.3,-46.4,-23.9,-46.6,13.2,-46.6,27,-46.7,17.7,-47,22.3,-47.1,2.9,-47.7,-27.8,-47.7,-52.5,-47.8,-31.7,-48.5,-48.2,-48.6,-17,-48.2,35.7,-48.3,-3.6,-48.7,-10.2,-49,-35.7,-49.2,7.1,-49.2,-44,-49.2,-39.8,-49.4,
30.8,-49.7,-20.7,-50,11.4,-50.1,25.8,-50.5,.5,-50.7,16.1,-50.8,21,-50.8,-13.5,-51.2,-24.5,-51.4,-6.5,-51.4,-53.7,-52.2,-28.3,-52.6,4.8,-52.3,34.8,-52.4,-49.4,-53,-32.3,-53.3,-17,-53.2,9.4,-53.5,-2.3,-53.6,-45,-53.6,29.7,-53.6,-36.5,-53.7,-40.7,-53.9,-9.6,-54,14.2,-54.3,24.3,-54.2,19.2,-54.5,-20.7,-54.8,2.3,-55.2];
const middleRight = [37.8,38,41.8,37.9,45.8,37.5,49.9,36.7,53.9,35.5,60.1,38,64.1,36.1,70.1,37.7,74,35,79.8,35.9,85.6,36.5,91.2,36.8,96.7,36.8,102.1,36.6,107.4,36.2,112.6,35.5,117.7,34.6,122.7,33.4,57.8,34,39.5,33.5,43.4,33.3,47.4,32.6,51.3,31.6,67.9,33.7,61.7,32.2,77.7,32,83.6,32.5,89.3,32.7,94.8,32.7,100.3,32.5,105.7,31.9,110.9,31.1,71.7,31.2,116.1,30.1,121,29,125.9,27.5,36.8,29.2,40.5,29.1,44.5,28.5,48.4,27.6,55.2,30.1,59,28.4,65.4,30,52.2,26.5,62.7,26.4,69.1,27.5,75.3,28.3,81.3,28.7,87.1,28.9,92.7,28.7,98.3,28.4,103.7,27.8,109,26.9,114.1,25.8,119.1,24.5,124.1,23.1,
37.2,24.9,41.2,24.6,45.1,24,48.9,22.8,56,24.8,59.6,22.9,66.3,24,72.6,24.7,78.8,25.1,84.7,25.1,90.4,24.9,96,24.5,101.5,23.8,106.8,22.8,112,21.7,117,20.2,121.9,18.6,126.7,16.9,37.4,20.8,41.3,20.2,45.2,19.5,52.7,21.4,49,18.1,56.3,19.6,63.3,20.7,69.8,21.3,76,21.6,82.1,21.6,87.9,21.3,93.6,20.7,99.1,19.9,104.5,18.9,109.7,17.7,114.7,16.1,119.7,14.5,124.4,12.6,37.1,16.8,41,16.1,44.9,15,52.5,16.4,59.8,17.5,66.6,18,73.1,18.2,79.2,18.1,85.3,17.8,91,17.2,96.5,16.3,102,15.1,107.2,13.8,112.3,12.2,117.3,10.4,122,8.4,126.7,6.3,
36.5,13,40.2,12.1,44,10.8,48.5,13.5,56,14.5,63.1,15,69.8,15.1,76.2,14.9,82.3,14.5,88.1,13.8,93.8,12.8,99.2,11.5,104.5,10.1,109.6,8.4,114.5,6.6,119.4,4.5,124,2.3,128.5,-.2,52.1,11.7,59.4,12.1,66.3,12.2,72.8,11.9,79.1,11.4,85.1,10.5,90.8,9.5,96.3,8.1,101.7,6.6,106.8,4.8,111.7,2.8,116.5,.7,121.2,-1.6,125.7,-4.1,39,8.3,47.6,9.1,55.4,9.5,62.6,9.5,69.4,9.1,75.7,8.4,81.9,7.5,87.7,6.3,93.2,4.9,98.6,3.2,103.8,1.4,108.8,-.7,113.6,-2.9,118.2,-5.3,122.7,-7.9,127,-10.7,42.8,6.7,51,7.1,58.6,7,65.6,6.5,72.1,5.7,78.4,4.7,84.3,3.4,90,1.9,95.4,.2,100.7,-1.8,105.7,-4,110.5,-6.3,115.1,-8.8,119.6,-11.5,123.8,-14.4,127.9,-17.4,
37.4,4.7,46.3,4.9,54.2,4.7,61.6,4.2,68.3,3.2,74.7,2.2,80.7,.7,86.5,-.9,92.1,-2.8,97.3,-4.8,102.4,-7.1,107.3,-9.5,111.8,-12.1,116.3,-14.9,120.6,-17.8,41.1,3.1,49.6,2.8,57.2,2,64.2,1.1,70.9,-.2,77.1,-1.8,82.9,-3.5,88.6,-5.5,93.9,-7.6,98.9,-10,103.8,-12.5,108.4,-15.3,112.9,-18.1,117.1,-21.2,124.6,-20.9,44.5,1.1,52.7,.2,60,-.9,66.8,-2.4,73.1,-4,79.2,-5.9,84.8,-8,90.3,-10.2,95.4,-12.7,100.3,-15.4,104.8,-18.2,109.3,-21.1,113.6,-24.2,121.2,-24.3,39,-.3,47.7,-1.3,55.5,-2.6,62.5,-4.2,69.1,-6,75.3,-8,81,-10.2,86.5,-12.6,91.6,-15.2,96.5,-18,101.2,-20.8,105.7,-24,109.9,-27.1,117.6,-27.5,125,-27.7,
42.4,-2.5,36.8,-3.4,50.7,-4,58,-5.7,64.8,-7.7,71.1,-9.8,77,-12.2,82.6,-14.7,87.8,-17.4,92.8,-20.2,97.4,-23.3,102,-26.5,106.1,-29.8,114,-30.5,121.5,-31,45.5,-5.1,40,-5.7,53.3,-7,60.4,-9.1,66.9,-11.4,72.8,-13.9,78.6,-16.6,83.9,-19.4,88.9,-22.4,93.6,-25.6,98,-28.8,102.3,-32.2,110.1,-33.3,117.7,-34,37.3,-8.6,43,-8.4,48.3,-7.9,55.7,-10.2,62.4,-12.7,68.6,-15.3,74.4,-18.1,79.7,-21.1,84.8,-24.2,89.5,-27.5,94,-30.9,98.2,-34.4,106.2,-35.8,113.9,-36.8,121.4,-37.6,40.1,-11.3,45.6,-11.3,50.8,-10.9,57.8,-13.6,64.2,-16.5,70.1,-19.4,75.6,-22.5,80.7,-25.8,85.5,-29.2,90,-32.7,94.2,-36.3,102.3,-38,110,-39.4,117.5,-40.5,
37.1,-14,42.7,-14.5,48,-14.5,53,-14.3,59.6,-17.3,65.6,-20.5,71.2,-23.8,76.4,-27.2,81.3,-30.7,85.8,-34.3,90,-38,98.1,-40.1,106,-41.8,113.5,-43.2,120.9,-44.3,39.5,-17.1,44.8,-17.8,49.9,-18,54.8,-17.8,61.1,-21.2,66.8,-24.7,72.1,-28.2,77,-31.8,81.6,-35.6,85.9,-39.5,94,-41.9,101.8,-44,109.5,-45.6,116.8,-47.1,41.5,-20.6,46.6,-21.3,51.6,-21.6,56.4,-21.6,62.3,-25.2,67.7,-29,72.7,-32.8,77.2,-36.7,81.5,-40.7,89.7,-43.5,97.7,-45.9,105.4,-48,112.7,-49.6,37.9,-22.8,43.1,-24.2,48.1,-25,52.9,-25.5,57.7,-25.6,63.2,-29.5,68.3,-33.5,72.9,-37.5,77.2,-41.7,85.4,-44.8,93.5,-47.6,101.1,-49.9,108.6,-52,115.9,-53.8,
39.3,-26.6,44.3,-27.9,49.2,-28.9,53.9,-29.4,58.6,-29.6,63.8,-33.8,68.5,-38,72.8,-42.3,81.2,-45.9,89.1,-49,96.9,-51.6,104.4,-54,40.4,-30.4,45.2,-31.8,49.9,-32.8,54.6,-33.5,59.2,-33.8,64,-38.2,68.4,-42.7,76.8,-46.6,84.8,-50.1,92.6,-53.2,41,-34.3,45.7,-35.8,50.4,-37,54.9,-37.7,59.5,-38.1,63.9,-42.7,72.4,-47.1,80.4,-51.1,88.2,-54.5,36.9,-36.3,41.3,-38.3,45.9,-39.9,50.4,-41.1,54.9,-42,59.4,-42.5,68,-47.4,76,-51.7,83.8,-55.3,37,-40.3,41.3,-42.4,45.7,-44.1,50.1,-45.3,54.6,-46.3,59,-47,63.5,-47.4,71.6,-52,36.7,-44.4,40.8,-46.4,45.1,-48.2,49.5,-49.6,53.9,-50.8,58.3,-51.5,62.7,-52,67.2,-52.1,40.1,-50.6,44.3,-52.4,48.6,-53.9,52.8,-55,38.9,-54.5];
const lowerLeft = [-110.5,-59.3,-105.4,-59.2,-100.1,-58.9,-95,-58.4,-89.7,-57.5,-84.3,-56.5,-111,-64.2,-105.8,-63.9,-100.7,-63.6,-95.5,-62.9,-90.3,-62,-85.1,-60.9,-106.1,-68.8,-101,-68.3,-95.8,-67.6,-90.7,-66.6,-85.5,-65.4,-106.2,-73.6,-101.1,-73.1,-96,-72.3,-90.9,-71.3,-85.8,-70,-100.9,-78,-95.9,-77,-90.8,-76,-85.8,-74.7,-95.5,-81.9,-90.5,-80.7,-85.5,-79.3,-94.9,-86.8,-90,-85.5,-85,-84,-89.2,-90.2,-84.3,-88.7,-83.3,-93.4,-82.5,-98.2];
const lowerMid = [-69,-56,-54.7,-56.5,-24.5,-56.2,-13,-56.2,-74.4,-57.8,-64.5,-57.9,-50.2,-57.4,-45.7,-58.1,-41.3,-58.4,-37,-58.4,-32.7,-58,-28.5,-57.2,-16.5,-58,-8.5,-58.7,-79.8,-59.5,-59.9,-59.5,-69.8,-60.2,-20.4,-59.6,-55.3,-60.9,-24.3,-60.9,-12,-60.8,-75,-62.3,-65.1,-62.3,-50.7,-61.9,-46.1,-62.6,-41.6,-62.9,-37.1,-62.9,-32.7,-62.6,-28.5,-61.9,-15.7,-62.7,-7.1,-63.2,-80.3,-64,-60.4,-63.9,-70.3,-64.7,-19.7,-64.3,-23.8,-65.5,-10.8,-65.3,-55.6,-65.3,-75.4,-66.7,-65.5,-66.6,-50.9,-66.3,-46.2,-67,-41.5,-67.4,-37,-67.4,-32.4,-67,-28,-66.4,-14.6,-67.1,-80.6,-68.5,-60.6,-68.4,-70.6,-69.1,-18.6,-68.7,-55.7,-69.7,-22.9,-69.9,-9.2,-69.6,-75.6,-71.2,-65.5,-71.1,-50.9,-70.8,-46,-71.5,-41.2,-71.8,-36.5,-71.8,-31.9,-71.5,-27.3,-70.9,-13.2,-71.5,-80.7,-73.1,-60.6,-72.9,-70.6,-73.6,-17.4,-73,-7.4,-73.8,-55.5,-74.2,-21.8,-74.3,
-75.5,-75.8,-65.4,-75.6,-50.5,-75.2,-45.5,-75.9,-40.5,-76.2,-35.7,-76.2,-30.9,-75.9,-26.3,-75.2,-11.5,-75.6,-80.5,-77.7,-60.3,-77.3,-70.3,-78.1,-15.8,-77.2,-55,-78.6,-20.4,-78.5,-9.6,-79.6,-75.1,-80.3,-65,-80.1,-49.9,-79.6,-44.8,-80.2,-39.7,-80.6,-34.6,-80.5,-29.7,-80.2,-25,-79.4,-80.1,-82.3,-59.6,-81.7,-69.8,-82.6,-14,-81.3,-18.6,-82.6,-54.3,-83,-7.4,-83.5,-74.6,-84.9,-64.3,-84.6,-49,-83.9,-43.7,-84.6,-38.5,-84.8,-33.4,-84.7,-28.3,-84.4,-23.4,-83.6,-11.9,-85.2,-79.4,-87,-58.8,-86.2,-69,-87.2,-16.6,-86.6,-53.3,-87.4,-21.6,-87.7,-9.6,-88.9,-73.7,-89.5,-63.4,-89,-47.9,-88.3,-42.4,-88.8,-37.1,-89,-31.8,-88.9,-26.6,-88.5,-14.4,-90.4,-78.5,-91.6,-57.7,-90.6,-68,-91.7,-19.5,-91.6,-52.1,-91.8,-24.7,-92.4,-7.1,-92.6,
-72.6,-94.1,-62.2,-93.5,-46.5,-92.6,-40.9,-93.1,-35.4,-93.2,-30,-93,-12,-94.2,-77.3,-96.2,-56.4,-95,-66.7,-96.2,-17.2,-95.4,-50.6,-96.1,-22.5,-96.4,-9.3,-97.7,-82,-98.1,-71.3,-98.6,-60.8,-97.9,-44.8,-96.8,-39.1,-97.3,-33.5,-97.3,-27.9,-97,-14.6,-99.1,-76,-100.8,-54.8,-99.3,-65.2,-100.7,-20.1,-100.1,-48.8,-100.3,-25.6,-100.8,-6.6,-101.2,-69.7,-103.2,-59.1,-102.3,-42.9,-101,-37.1,-101.3,-31.3,-101.2,-11.9,-102.7,-74.3,-105.5,-63.5,-105.1,-53,-103.6,-17.4,-103.8,-46.9,-104.5,-23.1,-104.6,-8.9,-106,-67.9,-107.6,-57.2,-106.7,-40.8,-105.1,-34.8,-105.3,-28.9,-105.1,-14.5,-107.3,-61.5,-109.5,-50.9,-107.8,-20.4,-108.3,-44.7,-108.7,-26.3,-108.9,-38.5,-109,-32.3,-109.2,
-55,-110.9,-11.4,-110.7,-48.6,-112,-17.3,-111.8,-42.2,-112.7,-35.9,-113,-29.6,-113,-23.4,-112.6,-59.3,-113.8,-8.1,-114,-52.7,-115.2,-14.2,-115.2,-46.1,-116.1,-20.4,-116.1,-39.5,-116.7,-33.1,-116.8,-26.7,-116.7,-10.8,-118.5,-50,-119.3,-43.4,-120.1,-36.7,-120.5,-30,-120.5,-23.5,-120.2,-17.1,-119.5,-7.2,-121.7,-13.7,-122.8,-20.1,-123.7,-33.5,-124.3,-26.8,-124.2,-10,-125.9,-16.6,-127,-6.4,-129];
const lowerCentre = [-5.2,-56.3,7.1,-56.7,12,-57.7,17.2,-58,22.6,-58,28,-57.4,33.5,-56.2,43,-56.5,47.2,-58.1,57.2,-56,61.7,-56.5,66.1,-56.8,-.6,-58.3,4.4,-59.8,37.4,-58.6,31.7,-60.1,51.5,-59.4,55.8,-60.5,60.2,-61.2,64.7,-61.7,69.1,-61.9,-3.7,-60.9,9.5,-60.9,14.9,-61.5,20.4,-61.5,26.1,-61.1,41.4,-60.6,1.4,-62.6,35.6,-62.6,45.6,-62.4,49.8,-63.8,54.1,-65,58.4,-65.9,62.8,-66.4,67.2,-66.7,6.7,-63.9,12.2,-64.7,17.9,-65,23.8,-64.7,29.7,-63.9,39.5,-64.7,-1.9,-65.2,33.4,-66.4,43.6,-66.5,3.5,-66.7,47.8,-68,-5.5,-67.6,9.2,-67.7,15.1,-68.2,21.2,-68.2,27.3,-67.6,37.3,-68.7,52,-69.4,56.4,-70.4,60.7,-71.1,65.2,-71.6,69.6,-71.8,
.1,-69.3,6,-70.6,30.9,-70.2,41.3,-70.6,12.1,-71.4,18.3,-71.5,24.6,-71.1,-3.5,-71.7,45.4,-72.3,34.7,-72.5,2.5,-73.2,49.6,-73.7,28.1,-73.9,8.7,-74.3,38.6,-74.6,15,-74.7,21.5,-74.5,54,-74.9,58.3,-75.8,62.7,-76.4,67.1,-76.8,-1.3,-75.6,31.8,-76.2,42.7,-76.4,5,-76.9,-5.4,-77.8,11.5,-77.6,18.2,-77.8,25,-77.4,46.9,-78,35.7,-78.5,1.1,-79.3,51.1,-79.2,28.6,-79.9,39.7,-80.4,7.8,-80.4,55.5,-80.3,14.6,-80.8,21.6,-80.7,59.8,-81.1,64.3,-81.6,68.9,-81.9,-3.1,-81.6,32.5,-82.2,43.8,-82.1,3.8,-82.9,25.2,-83.3,48,-83.5,10.8,-83.7,17.9,-83.8,36.4,-84.3,52.4,-84.7,-.5,-85.2,28.9,-85.7,56.7,-85.6,40.4,-86,6.7,-86.3,61.2,-86.4,14,-86.7,21.4,-86.6,65.8,-86.9,
-4.9,-87.2,32.8,-87.9,44.6,-87.6,2.3,-88.6,25,-89.1,48.9,-89,9.7,-89.4,17.3,-89.6,36.8,-89.9,53.3,-90.1,-2.3,-90.7,57.7,-91,28.8,-91.5,40.9,-91.6,62.3,-91.6,66.9,-92,5.3,-91.9,13,-92.4,20.9,-92.3,32.8,-93.5,45.2,-93.2,.6,-94.1,49.5,-94.4,24.6,-94.7,8.5,-95,36.8,-95.4,16.5,-95.2,54,-95.4,-4.3,-96.1,58.5,-96.3,63.1,-96.8,67.8,-97.2,28.5,-97,41.1,-97.1,3.7,-97.4,11.9,-97.9,20.2,-97.8,45.4,-98.5,32.5,-99,-1.3,-99.4,49.8,-99.7,23.9,-100.2,7,-100.4,15.4,-100.6,54.3,-100.7,36.7,-100.8,59,-101.5,63.7,-102,68.4,-102.3,
41,-102.5,28,-102.4,1.9,-102.6,10.5,-103.2,19.2,-103.2,45.4,-103.8,-3.4,-104.5,32.1,-104.4,49.9,-105,5.3,-105.6,23.1,-105.6,14.1,-105.9,54.5,-105.9,36.3,-106.2,59.3,-106.6,64,-107.1,68.9,-107.4,-.1,-107.6,27.2,-107.7,40.7,-107.7,8.9,-108.4,18,-108.5,45.2,-109,-5.7,-109.3,31.4,-109.6,49.8,-110.2,3.4,-110.6,22,-110.7,12.6,-111,54.4,-111.1,35.7,-111.4,59.3,-111.8,64.1,-112.2,-2.3,-112.4,26.1,-112.9,40.1,-112.9,7.1,-113.4,16.6,-113.5,44.7,-114.2,30.4,-114.8,49.4,-115.3,1.3,-115.4,20.7,-115.8,10.9,-116,54.2,-116.2,34.8,-116.5,-4.7,-117.1,24.9,-117.8,39.4,-118,5,-118.2,14.9,-118.4,44,-119.3,29.3,-119.8,-1,-120.1,8.9,-120.8,19.1,-120.7,33.8,-121.5,2.8,-122.9,23.5,-122.9,38.4,-123,13.1,-123.3,-3.5,-124.6,27.9,-124.8,6.9,-125.5,17.4,-125.6,.4,-127.4,21.8,-127.6,11.1,-128];
const lowerRight = [70.5,-56.9,74.9,-56.8,79.4,-56.2,100.1,-56,111.6,-56.1,95.7,-57.5,91.3,-58.8,107.3,-58.3,86.9,-59.9,103,-60.2,114.4,-60.4,82.4,-60.8,78,-61.4,73.5,-61.7,98.6,-61.9,110.1,-62.6,94.1,-63.3,105.7,-64.6,89.7,-64.5,85.2,-65.5,80.7,-66.2,101.3,-66.3,76.2,-66.6,71.7,-66.9,96.8,-67.9,108.2,-69,92.2,-69.2,87.7,-70.2,103.7,-70.9,83.2,-70.9,78.7,-71.5,74.2,-71.8,99.1,-72.5,94.6,-73.8,90,-74.9,85.4,-75.8,80.8,-76.4,76.2,-76.8,71.7,-76.9,101.3,-77.1,96.7,-78.5,92,-79.7,87.4,-80.7,82.7,-81.3,78.1,-81.8,73.4,-82,98.5,-83.3,93.8,-84.5,89.1,-85.5,84.4,-86.2,79.7,-86.8,75,-87.1,70.4,-87.1,90.6,-90.4,85.8,-91.2,81,-91.7,76.2,-92,71.6,-92.2,82.1,-96.8,77.3,-97.1,72.5,-97.2,78.1,-102.2,73.3,-102.3];

const regions = [upperLeft, upperMid, upperCentre, upperRight, middleLeft, middleCentre, middleRight, lowerLeft, lowerMid, lowerCentre, lowerRight];
const allPoints = [];
regions.forEach(function (region) {
    for (let i = 0; i < region.length; i += 2) {
        allPoints.push({ x: region[i], y: region[i + 1] });
    }
});

// GMT style frame, ticks point outwards on all four sides
const frameTicks = {
    id: 'frameTicks',
    afterDraw: function (chart) {
        const ctx = chart.ctx;
        const area = chart.chartArea;
        ctx.save();
        ctx.strokeStyle = '#000';
        ctx.lineWidth = 2;
        ctx.beginPath();
        ['x', 'x2'].forEach(function (id) {
            const scale = chart.scales[id];
            const edge = id === 'x' ? area.bottom : area.top;
            const dir = id === 'x' ? 1 : -1;
            scale.ticks.forEach(function (t) {
                const len = t.value % 50 === 0 ? 17 : 8;
                const px = scale.getPixelForValue(t.value);
                ctx.moveTo(px, edge);
                ctx.lineTo(px, edge + dir * len);
            });
        });
        ['y', 'y2'].forEach(function (id) {
            const scale = chart.scales[id];
            const edge = id === 'y' ? area.left : area.right;
            const dir = id === 'y' ? -1 : 1;
            scale.ticks.forEach(function (t) {
                const len = t.value % 50 === 0 ? 17 : 8;
                const py = scale.getPixelForValue(t.value);
                ctx.moveTo(edge, py);
                ctx.lineTo(edge + dir * len, py);
            });
        });
        ctx.stroke();
        ctx.lineWidth = 3.5;
        ctx.strokeRect(area.left, area.top, area.right - area.left, area.bottom - area.top);
        ctx.restore();
    }
};

function tickLabel(value) {
    const i = tickValues.indexOf(value);
    return i >= 0 ? tickLabels[i] : '';
}

function sideScale(axis, position, range, size, showLabels) {
    return {
        type: 'linear',
        axis: axis,
        position: position,
        min: range[0],
        max: range[1],
        grid: { display: false, drawTicks: false },
        border: { display: false },
        afterFit: function (scale) {
            if (axis === 'x') { scale.height = size; } else { scale.width = size; }
            // no room for half labels at the axis ends, the frame sits at fixed pixels
            scale.paddingLeft = 0;
            scale.paddingRight = 0;
            scale.paddingTop = 0;
            scale.paddingBottom = 0;
        },
        ticks: {
            display: showLabels,
            stepSize: 10,
            autoSkip: false,
            maxRotation: 0,
            padding: axis === 'x' ? 20 : 29,
            color: '#000',
            font: { family: '"Liberation Sans", Helvetica, Arial, sans-serif', size: 40 },
            callback: tickLabel
        }
    };
}

new Chart(document.getElementById('pointsChart').getContext('2d'), {
    type: 'scatter',
    data: {
        datasets: [{
            data: allPoints,
            backgroundColor: '#000',
            borderWidth: 0,
            pointRadius: 4.3,
            clip: false
        }]
    },
    plugins: [frameTicks],
    options: {
        responsive: false,
        animation: false,
        layout: { padding: 0 },
        plugins: { legend: { display: false }, tooltip: { enabled: false } },
        scales: {
            x: sideScale('x', 'bottom', xRange, 62, true),
            x2: sideScale('x', 'top', xRange, 22, false),
            y: sideScale('y', 'left', yRange, 122, true),
            y2: sideScale('y', 'right', yRange, 22.5, false)
        }
    }
});
</script>
</body>
</html>
